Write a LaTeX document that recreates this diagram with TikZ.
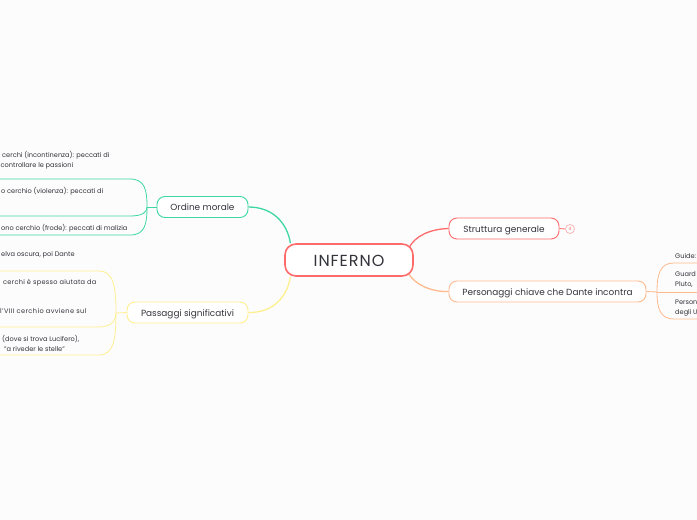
\documentclass[tikz,border=0pt]{standalone}
\usepackage{fontspec}
\setmainfont{Poppins}
\usepackage{tikz}
\usetikzlibrary{positioning, backgrounds}

\definecolor{rosso}{HTML}{FF6B6B}
\definecolor{verde}{HTML}{3FD6A6}
\definecolor{giallo}{HTML}{FFF08F}
\definecolor{arancio}{HTML}{FFB98C}
\definecolor{testo}{HTML}{33333B}

\begin{document}
\begin{tikzpicture}[
x=1pt, y=-1pt,
root/.style={draw=rosso, line width=1.6pt, rounded corners=11pt, fill=white, text=testo, minimum width=128pt, minimum height=32pt, inner sep=0pt, text height=13pt, text depth=0pt, font=\fontsize{16}{18}\selectfont\addfontfeature{LetterSpace=6}},
topic/.style={draw=#1, line width=0.9pt, rounded corners=8pt, fill=white, text=testo, minimum height=21pt, inner sep=0pt, text height=9pt, text depth=2pt, font=\fontsize{8.9}{11}\selectfont},
leaf/.style={text=testo, inner sep=0pt, align=left, anchor=west, font=\fontsize{6.6}{10}\selectfont},
link/.style={draw=#1, line width=1.3pt},
sub/.style={draw=#1, line width=0.8pt}
]

\useasboundingbox (0,0) rectangle (697,520);

% Centro
\node[root] (inferno) at (349,260) {INFERNO};

% Rami
\node[topic=rosso, minimum width=110pt] (struttura) at (504,228.5) {Struttura generale};
\node[topic=arancio, minimum width=197pt] (personaggi) at (547.5,291.5) {Personaggi chiave che Dante incontra};
\node[topic=verde, minimum width=91pt] (ordine) at (202.5,207) {Ordine morale};
\node[topic=giallo, minimum width=121pt] (passaggi) at (187.5,312.5) {Passaggi significativi};

% Contatore
\node[draw=rosso!60, circle, line width=0.6pt, minimum size=9pt, inner sep=0pt, text=rosso, font=\fontsize{4.5}{5}\selectfont] (conta) at (570,229) {4};

% Testi verdi
\node[leaf] (v1) at (0.5,160) {\hspace*{1.5pt}cerchi (incontinenza): peccati di\\controllare le passioni};
\node[leaf] (v2) at (1,191) {o cerchio (violenza): peccati di};
\node[leaf] (v3) at (1,228.5) {ono cerchio (frode): peccati di malizia};

% Testi gialli
\node[leaf] (g0) at (1,255) {elva oscura, poi Dante};
\node[leaf, font=\fontsize{6.6}{10}\selectfont\addfontfeature{LetterSpace=4}] (g1) at (3,283) {cerchi è spesso aiutata da};
\node[leaf, font=\fontsize{6.6}{10}\selectfont\addfontfeature{LetterSpace=6}] (g2) at (0,311) {l'VIII cerchio avviene sul};
\node[leaf] (g3) at (2,343.5) {(dove si trova Lucifero),\\\hspace*{2pt}"a riveder le stelle"};

% Testi arancio
\node[leaf] (a1) at (675,256) {Guide:};
\node[leaf] (a2) at (675,280) {Guard\\Pluto,};
\node[leaf] (a3) at (675,308) {Person\\degli U};

% Estremi
\coordinate (gv) at (147,207);
\coordinate (v1e) at (0,179);
\coordinate (v2e) at (0,216);
\coordinate (v3e) at (0,235);
\coordinate (gg) at (116,313);
\coordinate (g1e) at (0,271);
\coordinate (g2e) at (0,327);
\coordinate (g3e) at (0,355);
\coordinate (ga) at (657,292);
\coordinate (a1e) at (697,263);
\coordinate (a2e) at (697,292);
\coordinate (a3e) at (697,319);

\begin{scope}[on background layer]
\fill[fill=white!99!black] (0,0) rectangle (697,520);

% Connessioni
\draw[link=rosso] ([xshift=-5pt,yshift=12pt]inferno.east) .. controls (415,236) and (430,229) .. (struttura.west);
\draw[link=arancio] ([xshift=-5pt,yshift=-14pt]inferno.east) .. controls (415,284) and (430,292) .. (personaggi.west);
\draw[link=verde] (inferno.164) .. controls (287,222) and (272,207) .. (ordine.east);
\draw[link=giallo] (inferno.196) .. controls (287,298) and (272,313) .. (passaggi.east);
\draw[sub=rosso] (struttura.east)--(conta.west);

\draw[sub=verde] (ordine.west)--(gv);
\draw[sub=verde] (gv) .. controls (147,190) and (145,179) .. (130,179)--(v1e);
\draw[sub=verde] (gv) .. controls (147,212) and (143,216) .. (130,216)--(v2e);
\draw[sub=verde] (gv) .. controls (147,224) and (145,235) .. (130,235)--(v3e);

\draw[sub=giallo] (passaggi.west)--(gg);
\draw[sub=giallo] (gg) .. controls (116,288) and (114,271) .. (99,271)--(g1e);
\draw[sub=giallo] (gg) .. controls (116,320) and (112,327) .. (99,327)--(g2e);
\draw[sub=giallo] (gg) .. controls (116,338) and (114,355) .. (99,355)--(g3e);

\draw[sub=arancio] (personaggi.east)--(ga);
\draw[sub=arancio] (ga) .. controls (657,274) and (660,263) .. (674,263)--(a1e);
\draw[sub=arancio] (ga)--(a2e);
\draw[sub=arancio] (ga) .. controls (657,308) and (660,319) .. (674,319)--(a3e);
\end{scope}

\end{tikzpicture}
\end{document}
